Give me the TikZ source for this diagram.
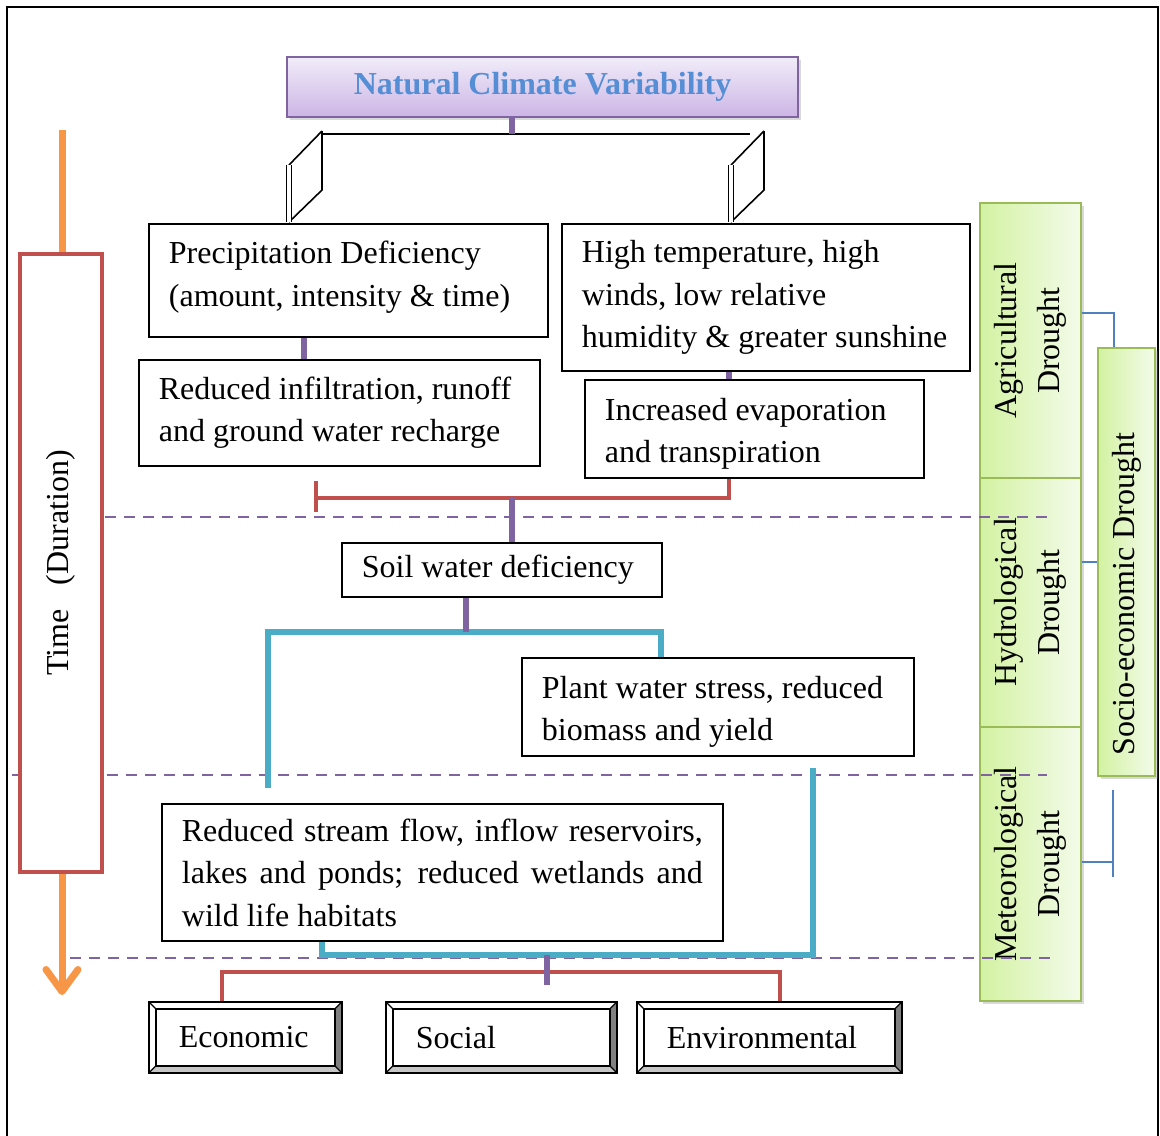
\documentclass[tikz,border=0pt]{standalone}
\usepackage{fontspec}
\setmainfont{Liberation Serif}
\usetikzlibrary{arrows.meta,shadows,calc}
\definecolor{vpurple}{HTML}{8064A2}
\definecolor{vred}{HTML}{C0504D}
\definecolor{vcyan}{HTML}{4BACC6}
\definecolor{vorange}{HTML}{F79646}
\definecolor{vgreen}{HTML}{9BBB59}
\definecolor{vgreenA}{HTML}{D3F2A2}
\definecolor{vgreenB}{HTML}{F3FBEA}
\definecolor{vblue}{HTML}{4F81BD}
\definecolor{vtitle}{HTML}{558ED5}
\definecolor{lavA}{HTML}{F1ECF9}
\definecolor{lavB}{HTML}{CCB5E5}

\begin{document}
\begin{tikzpicture}[x=0.5pt,y=-0.5pt,
  font=\fontsize{16}{21.25}\selectfont,
  execute at begin node={\spaceskip=0pt\xspaceskip=0pt},
  txtbox/.style={draw,line width=0.9pt,fill=white,anchor=north west,align=left,inner xsep=10pt,inner ysep=0pt},
  bevelbox/.style={draw,line width=0.9pt,fill=white,anchor=north west,align=left,inner xsep=15pt,
    minimum height=35.5pt,
    path picture={
      \path (path picture bounding box.north west) ++(3.5pt,-3.5pt) coordinate (bnw)
            (path picture bounding box.south east) ++(-3.5pt,3.5pt) coordinate (bse);
      \fill[gray] (path picture bounding box.north east) -- (path picture bounding box.south east) -- (bse) -- (bse |- bnw) -- cycle;
      \fill[gray!45] (path picture bounding box.south west) -- (path picture bounding box.south east) -- (bse) -- (bnw |- bse) -- cycle;
      \draw[line width=0.6pt] (bnw) rectangle (bse);
      \draw[line width=0.6pt] (path picture bounding box.north west) -- (bnw)
        (path picture bounding box.north east) -- (bse |- bnw)
        (path picture bounding box.south east) -- (bse)
        (path picture bounding box.south west) -- (bnw |- bse);
    }},
  greenbox/.style={draw=vgreen,line width=1pt,left color=vgreenA,right color=vgreenB,rotate=90,
    align=center,inner sep=0pt,drop shadow={shadow xshift=1.5pt,shadow yshift=-1.5pt,opacity=0.3}},
  purpleconn/.style={vpurple,line width=2.8pt},
  redconn/.style={vred,line width=2.4pt},
  cyanconn/.style={vcyan,line width=2.6pt},
  thinblue/.style={vblue,line width=0.6pt},
  sepline/.style={vpurple,line width=1pt,dash pattern=on 5.5pt off 4pt}]
  \useasboundingbox (0,0) rectangle (1160,1135);
  % frame
  \draw[line width=1pt] (7,1140) -- (7,7) -- (1158,7) -- (1158,1140);

  % time axis
  \coordinate (tstart) at (62,130);
  \coordinate (tend) at (62,995);
  \draw[vorange,line width=3.5pt,-{Straight Barb[length=11pt,width=16pt,round]}] (tstart) -- (tend);

  % drought types
  \node[greenbox,minimum width=137.5pt,minimum height=50.5pt] (agri) at (1030.5,340.5) {Agricultural\\Drought};
  \node[greenbox,minimum width=124.5pt,minimum height=50.5pt] (hydro) at (1030.5,602.5) {Hydrological\\Drought};
  \node[greenbox,minimum width=137pt,minimum height=50.5pt] (meteo) at (1030.5,864) {Meteorological\\Drought};
  \node[greenbox,align=none,minimum width=214pt,minimum height=28.5pt] (socio) at (1126.5,562) {Socio-economic Drought\hspace*{32pt}};
  \coordinate (s1) at (1114,313);
  \coordinate (s3) at (1113,862);
  \coordinate (s3a) at (1113,790);
  \coordinate (s3b) at (1113,877);
  \draw[thinblue] (agri.south |- s1) -- (s1) -- (socio.east -| s1);
  \draw[thinblue] (hydro.south |- socio.north) -- (socio.north);
  \draw[thinblue] (meteo.south |- s3) -- (s3);
  \draw[thinblue] (s3a) -- (s3b);

  % stages
  \draw[sepline] (105,517) -- (1047,517);
  \draw[sepline] (12,775) -- (1047,775);
  \draw[sepline] (70,958) -- (1052,958);

  \node[draw=vred,line width=2pt,fill=white,rotate=90,minimum width=309pt,minimum height=41pt] (time) at (61,563) {Time\hspace{12pt}(Duration)};

  % top
  \node[draw=vpurple,line width=1pt,top color=lavA,bottom color=lavB,minimum width=255.5pt,minimum height=30pt,
    font=\fontsize{16}{19}\selectfont\bfseries,text=vtitle,
    drop shadow={shadow xshift=1.5pt,shadow yshift=-1.5pt,opacity=0.3}] (ncv) at (542.5,87) {Natural Climate Variability};
  \coordinate (bar) at (512,134);
  \coordinate (barL) at (322,134);
  \coordinate (barR) at (750,134);
  \draw[line width=0.8pt] (barL) -- (barR);
  \draw[purpleconn] (ncv.south -| bar) -- (bar);
  \coordinate (lf) at (322,131);
  \coordinate (rf) at (764,131);
  \foreach \c in {lf,rf}{
    \draw[line width=0.8pt] (\c) -- ++(0,59) -- ++(-33,32);
    \draw[line width=0.8pt] (\c) -- ++(-33,34);
    \draw[line width=0.6pt,double,double distance=1.6pt] ($(\c)+(-33,34)$) -- ++(0,57);
  }

  \node[txtbox,text width=179.5pt,minimum height=56.5pt] (precip) at (148,223)
    {Precipitation Deficiency\\(amount, intensity \& time)\rule[-6.5pt]{0pt}{0pt}};
  \node[txtbox,text width=184pt,minimum height=73.5pt] (hightemp) at (561,223)
    {High temperature, high\\winds, low relative\\humidity \& greater sunshine};
  \node[txtbox,text width=180.5pt,minimum height=53pt] (infil) at (138,359)
    {Reduced infiltration, runoff\\and ground water recharge};
  \node[txtbox,text width=149.5pt,minimum height=49pt] (evap) at (584,379)
    {\rule{0pt}{16pt}Increased evaporation\\and transpiration};
  \node[txtbox,text width=140pt,minimum height=27pt] (soil) at (341,542)
    {Soil water deficiency};
  \node[txtbox,text width=176pt,minimum height=49pt] (plant) at (521,657)
    {\rule{0pt}{16pt}Plant water stress, reduced\\biomass and yield};
  \node[txtbox,text width=260.5pt,minimum height=68.5pt] (stream) at (161,803)
    {\hbox to 260.5pt{Reduced stream flow, inflow reservoirs,}
     \hbox to 260.5pt{lakes and ponds; reduced wetlands and}
     \hbox{wild life habitats}};
  \node[bevelbox,text width=66.5pt] (econ) at (148,1001) {Economic};
  \node[bevelbox,text width=85.5pt] (social) at (385,1001) {Social};
  \node[bevelbox,text width=102.5pt] (env) at (636,1001) {Environmental};

  % links
  \coordinate (g1) at (304,0);
  \coordinate (g2) at (729,0);
  \draw[purpleconn] (precip.south -| g1) -- (infil.north -| g1);
  \draw[purpleconn] (hightemp.south -| g2) -- (evap.north -| g2);
  \coordinate (rj) at (316,498);
  \draw[redconn] (evap.south -| g2) -- (g2 |- rj) -- (rj);
  \draw[redconn] ($(rj)+(0,-17)$) -- ++(0,31);
  \coordinate (g3) at (512,498);
  \draw[purpleconn] (g3) -- (soil.north -| g3);
  \coordinate (bj) at (466,632);
  \coordinate (g4) at (661,0);
  \coordinate (bl) at (268,788);
  \draw[cyanconn] (bl) |- (g4 |- bj) -- (plant.north -| g4);
  \draw[purpleconn] (soil.south -| bj) -- (bj);
  \coordinate (bt) at (813,768);
  \coordinate (g5) at (322,955);
  \draw[cyanconn] (bt) |- (g5) -- (stream.south -| g5);
  \coordinate (rl) at (222,972);
  \coordinate (rr) at (780,972);
  \draw[redconn] (econ.north -| rl) -- (rl) -- (rr) -- (env.north -| rr);
  \coordinate (g6) at (547,955);
  \draw[purpleconn] (g6) -- ++(0,30);
\end{tikzpicture}
\end{document}
